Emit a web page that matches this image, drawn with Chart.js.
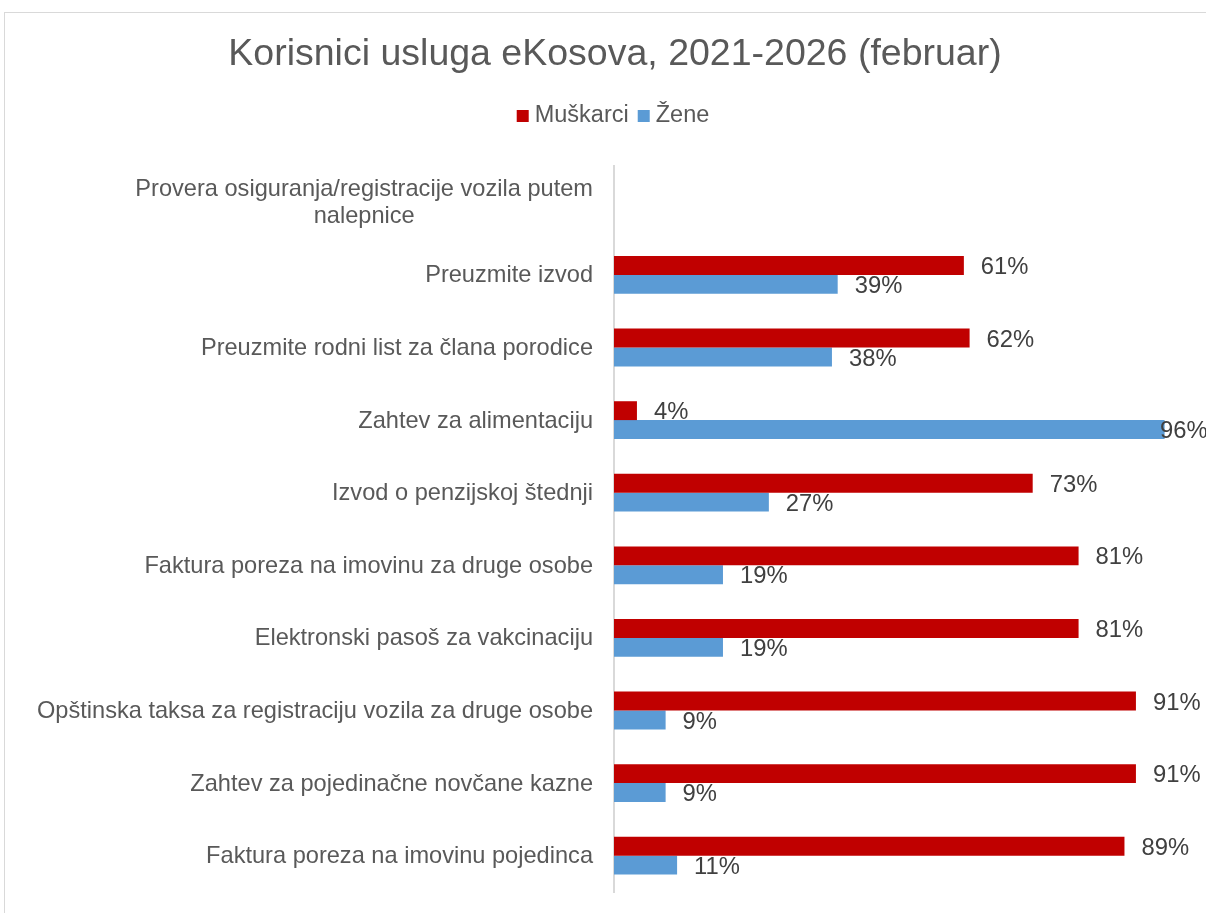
<!DOCTYPE html>
<html>
<head>
<meta charset="utf-8">
<script src="https://cdn.jsdelivr.net/npm/chart.js@4.4.1/dist/chart.umd.min.js"></script>
<style>
  html, body { margin:0; padding:0; background:#fff; overflow:hidden; }
  #frame { position:absolute; left:4px; top:12px; width:1230px; height:1000px; border:1px solid #d9d9d9; }
  #wrap { position:absolute; left:0; top:0; width:1230px; height:913px; }
</style>
</head>
<body>
<div id="frame"></div>
<div id="wrap"><canvas id="chart"></canvas></div>
<script>
'use strict';

const categories = [
  ['Provera osiguranja/registracije vozila putem', 'nalepnice'],
  'Preuzmite izvod',
  'Preuzmite rodni list za člana porodice',
  'Zahtev za alimentaciju',
  'Izvod o penzijskoj štednji',
  'Faktura poreza na imovinu za druge osobe',
  'Elektronski pasoš za vakcinaciju',
  'Opštinska taksa za registraciju vozila za druge osobe',
  'Zahtev za pojedinačne novčane kazne',
  'Faktura poreza na imovinu pojedinca'
];
const muskarci = [null, 61, 62, 4, 73, 81, 81, 91, 91, 89];
const zene     = [null, 39, 38, 96, 27, 19, 19, 9, 9, 11];

const FONT = '"Liberation Sans", Arial, sans-serif';
const TEXT = '#595959';

// category labels drawn by hand so the two-line one can be centred like the original
const catLabels = {
  id:'catLabels',
  afterDraw(chart) {
    const {ctx, scales:{y}} = chart;
    const right = chart.chartArea.left - 21;
    ctx.save();
    ctx.font = '23.6px ' + FONT;
    ctx.fillStyle = TEXT;
    ctx.textBaseline = 'middle';
    categories.forEach((c,i)=>{
      const lines = Array.isArray(c) ? c : [c];
      const yc = y.getPixelForValue(i) + 1;
      const lh = 27;
      const maxW = Math.max(...lines.map(l=>ctx.measureText(l).width));
      lines.forEach((l,j)=>{
        const ly = yc + (j - (lines.length-1)/2)*lh;
        if (lines.length>1) { ctx.textAlign='center'; ctx.fillText(l, right-maxW/2, ly); }
        else { ctx.textAlign='right'; ctx.fillText(l, right, ly); }
      });
    });
    ctx.restore();
  }
};

// value labels at the end of each bar
const valueLabels = {
  id:'valueLabels',
  afterDatasetsDraw(chart) {
    const {ctx} = chart;
    ctx.save();
    ctx.font = '23.8px ' + FONT;
    ctx.fillStyle = '#404040';
    ctx.textBaseline = 'middle';
    ctx.textAlign = 'left';
    chart.data.datasets.forEach((ds,di)=>{
      chart.getDatasetMeta(di).data.forEach((bar,i)=>{
        const v = ds.data[i];
        if (v==null) return;
        const x = Math.min(bar.x + 17, chart.width - 70);
        ctx.fillText(v + '%', x, bar.y + 2);
      });
    });
    ctx.restore();
  }
};

// legend: small squares close to their text, as in the original
const legendRow = {
  id:'legendRow',
  afterDraw(chart) {
    const {ctx} = chart;
    const box = 12, gap = 6, between = 9, yc = 116;
    ctx.save();
    ctx.font = '23.5px ' + FONT;
    ctx.textBaseline = 'middle';
    ctx.textAlign = 'left';
    const items = chart.data.datasets.map(d=>({text:d.label, color:d.backgroundColor, w:ctx.measureText(d.label).width}));
    const total = items.reduce((a,it)=>a+box+gap+it.w,0) + between*(items.length-1);
    let x = chart.width/2 - total/2 - 2;
    items.forEach(it=>{
      ctx.fillStyle = it.color;
      ctx.fillRect(x, yc-box/2, box, box);
      ctx.fillStyle = TEXT;
      ctx.fillText(it.text, x+box+gap, yc);
      x += box + gap + it.w + between;
    });
    ctx.restore();
  }
};

new Chart(document.getElementById('chart'), {
  type:'bar',
  data:{
    labels:categories,
    datasets:[
      {label:'Muškarci', data:muskarci, backgroundColor:'#C00000', categoryPercentage:0.52, barPercentage:1},
      {label:'Žene', data:zene, backgroundColor:'#5B9BD5', categoryPercentage:0.52, barPercentage:1}
    ]
  },
  options:{
    indexAxis:'y',
    responsive:true,
    maintainAspectRatio:false,
    animation:false,
    layout:{padding:{left:0, right:0, top:0, bottom:21}},
    plugins:{
      title:{display:true, text:'Korisnici usluga eKosova, 2021-2026 (februar)', color:TEXT,
             font:{family:FONT, size:37.5, weight:'normal'}, padding:{top:32, bottom:89}},
      legend:{display:false},
      tooltip:{enabled:false}
    },
    scales:{
      x:{display:false, min:0, max:107.4},
      y:{
        grid:{display:false},
        border:{display:true, color:'#d9d9d9', width:2},
        ticks:{display:false},
        afterFit(s){ s.width = 614; }
      }
    }
  },
  plugins:[catLabels, valueLabels, legendRow]
});
</script>
</body>
</html>
